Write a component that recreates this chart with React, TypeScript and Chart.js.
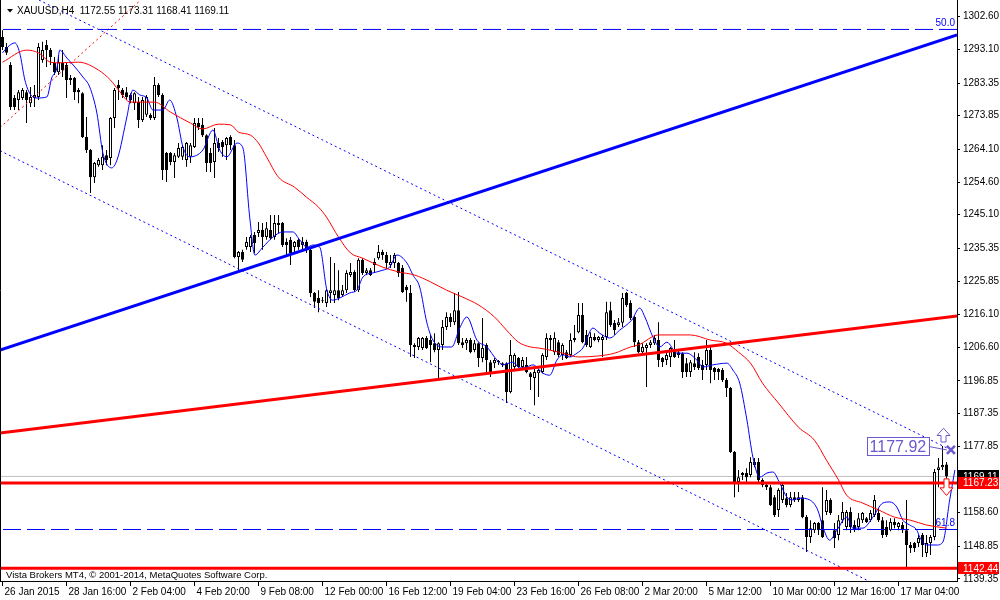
import React, { useEffect, useRef } from "react";
import { Chart, registerables } from "chart.js";

Chart.register(...registerables);

const FONT = "'Liberation Sans', Arial, sans-serif";

const symbolTitle = "XAUUSD,H4";
const lastOHLC = [1172.55, 1173.31, 1168.41, 1169.11];
const copyrightText = "Vista Brokers MT4, \u00A9 2001-2014, MetaQuotes Software Corp.";

const xTickBars = [0, 16, 32, 48, 64, 80, 96, 112, 128, 144, 160, 176, 192, 208, 224];
const xTickLabels = [
  "26 Jan 2015", "28 Jan 16:00", "2 Feb 04:00", "4 Feb 20:00", "9 Feb 08:00",
  "12 Feb 00:00", "16 Feb 12:00", "19 Feb 04:00", "23 Feb 16:00", "26 Feb 08:00",
  "2 Mar 20:00", "5 Mar 12:00", "10 Mar 00:00", "12 Mar 16:00", "17 Mar 04:00",
];
const yTickValues = [
  1302.6, 1293.1, 1283.35, 1273.85, 1264.1, 1254.6, 1245.1, 1235.35, 1225.85,
  1216.1, 1206.6, 1196.85, 1187.35, 1177.85, 1168.35, 1158.6, 1148.85, 1139.35,
];

const opens = [
  1296.7, 1293.8, 1288.6, 1279.0, 1278.4, 1279.0, 1280.7, 1277.5, 1279.0, 1279.3,
  1290.0, 1294.4, 1292.9, 1289.2, 1286.5, 1289.2, 1288.6, 1284.2, 1284.8, 1281.3,
  1280.4, 1267.7, 1263.9, 1256.0, 1259.5, 1259.5, 1262.4, 1261.6, 1273.2, 1282.8,
  1281.3, 1280.7, 1279.9, 1277.5, 1277.8, 1272.6, 1274.1, 1274.1, 1273.2, 1282.8,
  1279.9, 1263.0, 1263.0, 1260.4, 1261.9, 1261.9, 1261.0, 1261.9, 1264.8, 1271.7,
  1271.2, 1268.2, 1263.0, 1260.4, 1265.9, 1266.2, 1265.3, 1267.7, 1265.3, 1232.8,
  1234.3, 1235.7, 1235.7, 1239.2, 1239.8, 1240.7, 1238.6, 1240.7, 1238.6, 1242.1,
  1242.7, 1237.2, 1237.8, 1235.7, 1237.8, 1236.3, 1237.2, 1234.9, 1222.4, 1220.9,
  1220.3, 1219.5, 1222.4, 1221.8, 1223.2, 1221.8, 1223.2, 1227.6, 1228.5, 1223.2,
  1232.0, 1228.2, 1229.0, 1230.5, 1232.5, 1234.3, 1233.4, 1230.5, 1231.1, 1231.1,
  1229.6, 1224.1, 1222.4, 1207.3, 1206.7, 1206.4, 1209.3, 1208.7, 1207.8, 1205.8,
  1207.3, 1212.5, 1215.4, 1213.9, 1217.4, 1208.1, 1207.8, 1208.7, 1205.8, 1207.8,
  1203.5, 1207.3, 1202.3, 1202.0, 1202.3, 1202.0, 1202.0, 1193.6, 1200.9, 1203.5,
  1200.9, 1201.5, 1199.1, 1197.7, 1199.1, 1199.4, 1203.8, 1209.3, 1205.2, 1208.1,
  1204.4, 1205.2, 1204.4, 1208.7, 1211.0, 1216.0, 1210.2, 1206.7, 1209.6, 1208.7,
  1208.7, 1209.6, 1217.4, 1213.7, 1213.1, 1213.7, 1222.4, 1219.5, 1215.4, 1208.1,
  1205.2, 1206.4, 1207.3, 1207.8, 1208.7, 1203.5, 1202.9, 1203.8, 1205.8, 1205.2,
  1204.9, 1202.0, 1199.4, 1202.0, 1203.8, 1201.5, 1201.5, 1205.8, 1200.6, 1200.3,
  1200.0, 1197.1, 1194.8, 1176.2, 1167.5, 1169.5, 1170.1, 1169.5, 1172.4, 1173.3,
  1168.1, 1166.6, 1166.0, 1163.1, 1159.4, 1162.3, 1162.8, 1160.8, 1163.1, 1162.3,
  1163.1, 1157.3, 1151.5, 1153.5, 1155.6, 1156.4, 1158.8, 1162.3, 1153.5, 1152.1,
  1156.4, 1154.4, 1158.8, 1155.0, 1154.4, 1156.4, 1157.0, 1156.4, 1157.9, 1158.5,
  1156.4, 1154.4, 1153.5, 1155.9, 1154.4, 1155.0, 1153.5, 1149.2, 1149.8, 1149.8,
  1152.1, 1146.9, 1149.8, 1151.5, 1171.0, 1171.8, 1172.55,
];
const highs = [
  1298.7, 1295.0, 1289.4, 1279.9, 1281.3, 1281.9, 1281.3, 1282.2, 1282.8, 1295.0,
  1295.3, 1295.8, 1293.5, 1290.9, 1291.5, 1292.9, 1289.2, 1285.7, 1285.1, 1281.9,
  1280.7, 1273.5, 1264.2, 1260.4, 1261.6, 1265.3, 1263.9, 1273.5, 1281.9, 1284.2,
  1281.9, 1282.2, 1280.4, 1280.7, 1279.3, 1279.3, 1279.9, 1274.6, 1285.1, 1283.3,
  1280.4, 1263.3, 1263.3, 1263.0, 1265.9, 1265.3, 1266.2, 1265.9, 1273.2, 1273.2,
  1273.2, 1268.5, 1264.5, 1270.3, 1267.4, 1266.8, 1267.7, 1268.2, 1266.8, 1234.6,
  1234.9, 1238.6, 1239.2, 1240.1, 1243.0, 1242.7, 1243.0, 1245.0, 1245.0, 1245.0,
  1243.0, 1238.3, 1238.6, 1237.5, 1238.3, 1238.6, 1237.8, 1235.7, 1222.7, 1223.2,
  1221.2, 1223.5, 1232.8, 1231.1, 1229.0, 1224.7, 1229.0, 1231.1, 1229.0, 1232.5,
  1232.5, 1229.6, 1229.6, 1232.5, 1236.3, 1234.9, 1234.3, 1233.4, 1234.0, 1231.4,
  1230.5, 1224.7, 1224.7, 1207.8, 1209.6, 1209.6, 1209.9, 1210.2, 1210.7, 1208.1,
  1214.5, 1216.8, 1216.5, 1222.4, 1222.7, 1209.3, 1209.3, 1209.3, 1208.7, 1208.1,
  1215.1, 1207.8, 1202.9, 1203.5, 1202.9, 1202.3, 1202.3, 1208.7, 1204.9, 1203.8,
  1203.8, 1203.8, 1199.4, 1200.6, 1200.3, 1204.9, 1210.7, 1210.2, 1211.0, 1208.7,
  1207.8, 1205.8, 1210.7, 1213.1, 1219.5, 1219.5, 1211.6, 1211.0, 1210.7, 1209.9,
  1210.2, 1219.8, 1219.8, 1214.5, 1215.1, 1222.4, 1222.7, 1220.3, 1215.7, 1208.7,
  1207.8, 1207.8, 1208.7, 1210.2, 1213.9, 1203.8, 1205.8, 1206.7, 1208.7, 1205.8,
  1205.2, 1203.5, 1202.9, 1205.2, 1204.9, 1202.9, 1208.7, 1206.7, 1200.9, 1200.6,
  1200.6, 1197.7, 1195.1, 1176.5, 1171.0, 1170.4, 1171.5, 1174.7, 1174.5, 1174.5,
  1168.6, 1167.2, 1166.6, 1163.7, 1165.7, 1167.2, 1164.3, 1164.6, 1164.6, 1164.6,
  1163.7, 1157.9, 1156.4, 1155.9, 1155.9, 1166.0, 1165.2, 1162.8, 1155.6, 1157.9,
  1161.7, 1159.4, 1160.2, 1156.4, 1158.5, 1158.8, 1157.3, 1159.4, 1163.7, 1159.9,
  1157.3, 1156.4, 1157.0, 1157.0, 1155.9, 1155.9, 1162.3, 1150.1, 1150.1, 1152.1,
  1152.7, 1152.1, 1152.1, 1171.3, 1174.5, 1177.92, 1173.31,
];
const lows = [
  1292.9, 1291.5, 1275.5, 1275.5, 1275.5, 1278.4, 1271.7, 1276.4, 1276.4, 1278.4,
  1289.2, 1288.0, 1288.6, 1285.7, 1285.7, 1285.1, 1279.0, 1282.8, 1278.4, 1277.5,
  1267.4, 1263.0, 1251.4, 1254.3, 1259.0, 1258.1, 1259.5, 1259.5, 1270.3, 1278.4,
  1279.0, 1278.4, 1277.5, 1275.5, 1270.3, 1272.0, 1273.5, 1272.6, 1272.6, 1279.3,
  1255.2, 1254.6, 1259.5, 1255.8, 1261.6, 1261.0, 1259.0, 1260.1, 1264.5, 1269.7,
  1267.7, 1257.5, 1257.5, 1255.8, 1263.3, 1261.9, 1261.0, 1263.9, 1232.5, 1229.0,
  1231.4, 1234.9, 1234.3, 1234.0, 1238.6, 1234.9, 1237.8, 1237.8, 1237.8, 1239.8,
  1235.7, 1232.8, 1230.5, 1234.0, 1234.9, 1234.9, 1234.0, 1221.2, 1218.0, 1216.8,
  1219.5, 1218.3, 1219.5, 1219.5, 1220.3, 1221.2, 1222.4, 1227.0, 1222.7, 1222.7,
  1227.6, 1227.6, 1227.3, 1228.5, 1232.0, 1232.0, 1229.6, 1229.6, 1229.6, 1227.0,
  1222.4, 1219.8, 1203.8, 1203.5, 1205.8, 1205.8, 1206.1, 1202.3, 1205.2, 1197.1,
  1205.8, 1211.6, 1212.5, 1213.1, 1207.3, 1206.4, 1205.8, 1204.9, 1205.2, 1200.9,
  1202.3, 1199.1, 1198.0, 1200.6, 1201.5, 1200.9, 1190.4, 1193.3, 1200.0, 1200.6,
  1200.0, 1199.1, 1194.2, 1189.8, 1192.2, 1199.1, 1202.9, 1205.8, 1204.4, 1203.8,
  1202.9, 1203.2, 1203.8, 1208.1, 1210.7, 1207.8, 1206.7, 1206.4, 1208.4, 1208.1,
  1203.8, 1208.7, 1212.5, 1210.2, 1212.5, 1212.5, 1218.3, 1214.5, 1206.7, 1204.9,
  1204.6, 1195.1, 1206.4, 1207.3, 1200.9, 1200.9, 1201.5, 1200.9, 1203.5, 1203.5,
  1197.7, 1198.0, 1198.0, 1200.0, 1200.0, 1197.1, 1200.0, 1196.2, 1197.1, 1197.1,
  1196.5, 1192.2, 1175.9, 1163.1, 1164.6, 1168.1, 1167.5, 1168.9, 1171.8, 1167.5,
  1166.0, 1165.2, 1160.5, 1157.3, 1157.3, 1161.4, 1160.2, 1160.2, 1161.7, 1161.7,
  1157.0, 1147.2, 1149.8, 1152.7, 1152.1, 1151.2, 1157.9, 1157.9, 1148.3, 1150.6,
  1155.6, 1153.5, 1152.7, 1153.0, 1153.5, 1155.6, 1155.6, 1155.9, 1157.3, 1155.9,
  1151.2, 1151.5, 1153.2, 1154.1, 1153.5, 1152.7, 1142.44, 1146.9, 1147.2, 1148.6,
  1145.7, 1145.7, 1146.3, 1150.6, 1166.0, 1171.0, 1168.41,
];
const closes = [
  1293.8, 1292.1, 1276.4, 1276.4, 1280.7, 1281.3, 1278.4, 1279.3, 1279.9, 1293.8,
  1292.9, 1292.9, 1290.9, 1286.5, 1289.4, 1287.1, 1284.2, 1284.8, 1280.7, 1280.7,
  1267.7, 1263.9, 1256.0, 1260.1, 1261.0, 1261.9, 1261.0, 1273.2, 1281.3, 1281.9,
  1279.9, 1279.3, 1278.4, 1280.4, 1272.6, 1278.4, 1279.3, 1273.2, 1282.8, 1279.9,
  1258.1, 1258.1, 1260.4, 1262.4, 1264.5, 1264.8, 1265.9, 1265.3, 1271.7, 1270.6,
  1268.2, 1260.1, 1260.1, 1265.9, 1264.5, 1264.8, 1267.4, 1265.3, 1232.8, 1234.3,
  1232.0, 1237.2, 1238.6, 1236.9, 1240.7, 1238.6, 1241.2, 1238.3, 1242.7, 1242.7,
  1236.3, 1236.3, 1234.0, 1237.2, 1235.7, 1237.2, 1235.4, 1222.4, 1219.8, 1219.5,
  1220.0, 1223.2, 1223.2, 1223.2, 1220.9, 1223.2, 1228.2, 1228.5, 1223.2, 1232.0,
  1228.2, 1229.0, 1227.6, 1231.4, 1234.3, 1233.4, 1231.1, 1231.4, 1233.4, 1228.2,
  1222.7, 1223.2, 1207.3, 1206.7, 1209.3, 1209.3, 1206.4, 1207.3, 1205.8, 1207.8,
  1212.5, 1215.4, 1213.9, 1217.4, 1207.8, 1207.3, 1208.7, 1205.2, 1207.8, 1203.5,
  1206.4, 1202.9, 1199.4, 1202.9, 1202.6, 1201.5, 1193.6, 1204.4, 1204.4, 1200.9,
  1202.9, 1199.4, 1198.0, 1199.4, 1200.0, 1204.4, 1209.3, 1208.7, 1209.3, 1204.4,
  1207.3, 1203.5, 1208.7, 1209.3, 1216.0, 1208.1, 1207.3, 1209.6, 1208.7, 1209.6,
  1209.6, 1216.8, 1213.1, 1211.6, 1213.9, 1220.9, 1218.9, 1215.1, 1208.1, 1205.2,
  1206.7, 1207.3, 1208.1, 1209.3, 1202.9, 1202.3, 1204.4, 1206.4, 1203.8, 1204.4,
  1199.4, 1199.4, 1202.3, 1200.9, 1200.6, 1200.0, 1205.8, 1200.0, 1199.4, 1199.4,
  1197.1, 1194.8, 1176.2, 1167.5, 1168.9, 1170.1, 1168.9, 1173.3, 1173.3, 1168.1,
  1166.6, 1166.0, 1160.8, 1157.9, 1165.2, 1166.6, 1160.8, 1163.1, 1162.3, 1163.1,
  1157.3, 1151.5, 1154.1, 1155.6, 1153.5, 1151.5, 1162.3, 1158.5, 1151.2, 1156.4,
  1158.8, 1158.8, 1154.4, 1153.5, 1157.0, 1158.5, 1155.9, 1158.5, 1162.3, 1156.4,
  1152.1, 1152.1, 1155.9, 1155.0, 1155.6, 1153.5, 1149.2, 1148.3, 1148.3, 1151.2,
  1149.2, 1149.8, 1151.5, 1170.4, 1171.8, 1172.4, 1169.11,
];

// slow (red) moving average
const maSlowBars = [
  0, 6, 9, 12, 14, 19, 24, 27, 29, 32, 35, 38, 42, 47, 50, 54, 57, 59, 62, 64,
  66, 69, 73, 76, 79, 81, 84, 87, 90, 95, 99, 103, 107, 111, 115, 119, 123, 126, 129, 132,
  134, 138, 141, 144, 149, 153, 157, 159, 164, 172, 177, 181, 184, 187, 190, 194, 199, 203, 206, 209,
  211, 215, 219, 223, 227, 231, 236,
];
const maSlowVals = [
  1289.4, 1292.9, 1292.1, 1289.4, 1289.2, 1289.4, 1287.1, 1284.2, 1281.3, 1277.8,
  1277.8, 1277.8, 1274.9, 1271.7, 1270.0, 1271.4, 1271.2, 1269.1, 1268.2, 1265.9,
  1261.9, 1256.0, 1253.1, 1250.2, 1247.3, 1244.4, 1238.6, 1234.0, 1232.5, 1229.9,
  1228.5, 1227.6, 1225.6, 1223.2, 1221.2, 1218.9, 1215.4, 1211.6, 1208.1, 1206.7,
  1206.4, 1205.5, 1204.6, 1203.8, 1204.1, 1204.9, 1206.7, 1207.3, 1210.2, 1210.2,
  1208.7, 1207.8, 1205.2, 1202.0, 1196.2, 1190.4, 1183.4, 1179.6, 1173.8, 1168.1,
  1163.7, 1161.4, 1159.4, 1157.3, 1156.4, 1155.0, 1154.1,
];

// fast (blue) moving average
const maFastBars = [
  0, 1.3, 3.1, 4.3, 5.6, 6.8, 8.6, 11.1, 12.3, 13.6,
  14.3, 16.1, 18.1, 20.1, 21.8, 23.6, 25.1, 27.3, 28.8, 31.1,
  32.6, 34.3, 36.1, 37.6, 40.1, 41.8, 43.6, 45.1, 46.8, 50.1,
  52.6, 54.3, 56.1, 58.6, 60.1, 61.8, 63.1, 65.1, 67.6, 70.1,
  72.6, 74.3, 76.1, 77.6, 79.3, 81.1, 82.6, 84.3, 86.8, 88.6,
  90.1, 92.6, 95.1, 96.8, 98.6, 101.1, 102.6, 104.3, 106.1, 107.6,
  110.1, 112.3, 114.3, 116.1, 118.6, 121.1, 123.6, 125.1, 127.6, 129.3,
  131.1, 132.6, 135.1, 136.8, 138.6, 140.1, 141.8, 143.6, 145.1, 147.6,
  149.3, 151.8, 154.3, 157.3, 159.3, 160.6, 162.6, 164.3, 166.1, 168.6,
  171.1, 173.6, 175.1, 177.6, 181.1, 182.6, 184.3, 186.1, 187.6, 189.3,
  191.1, 192.6, 194.3, 196.1, 197.6, 199.3, 201.8, 203.8, 205.1, 206.8,
  208.6, 211.1, 212.6, 215.1, 217.6, 220.1, 221.8, 223.6, 225.1, 226.8,
  228.6, 229.3, 231.1, 233.6, 235.1, 236.8, 238.1,
];
const maFastVals = [
  1292.1, 1293.8, 1295.0, 1292.1, 1284.2, 1280.4, 1279.0, 1279.3, 1284.8, 1287.7,
  1292.9, 1290.6, 1288.0, 1285.1, 1282.2, 1274.6, 1263.0, 1258.7, 1261.6, 1273.5,
  1281.3, 1279.9, 1279.0, 1275.5, 1275.5, 1278.4, 1273.2, 1264.8, 1261.9, 1263.9,
  1269.7, 1263.9, 1261.9, 1265.9, 1264.5, 1244.4, 1233.4, 1235.7, 1238.6, 1240.1,
  1240.1, 1237.8, 1235.7, 1236.3, 1235.7, 1223.2, 1220.3, 1220.9, 1222.4, 1223.2,
  1227.0, 1228.2, 1229.0, 1229.9, 1233.4, 1231.1, 1227.6, 1224.1, 1213.7, 1208.7,
  1206.7, 1206.7, 1212.2, 1215.4, 1208.7, 1206.7, 1202.9, 1201.5, 1202.3, 1200.6,
  1200.9, 1201.5, 1199.1, 1198.5, 1202.9, 1204.4, 1203.8, 1204.9, 1206.4, 1212.2,
  1210.7, 1209.3, 1211.6, 1214.5, 1218.0, 1215.4, 1209.6, 1206.7, 1208.1, 1204.9,
  1204.9, 1202.9, 1200.9, 1201.5, 1202.0, 1200.0, 1196.2, 1185.5, 1174.7, 1168.9,
  1170.1, 1170.4, 1167.2, 1163.1, 1162.3, 1162.8, 1162.3, 1159.4, 1154.4, 1150.6,
  1153.5, 1157.3, 1154.1, 1154.1, 1157.3, 1161.4, 1161.7, 1160.2, 1156.4, 1155.0,
  1153.5, 1151.5, 1149.2, 1149.2, 1150.1, 1162.3, 1171.0,
];

// drawn objects (trend lines, channel, fibo, levels)
const blueTrendBars = [-0.625, 238.625];
const blueTrendVals = [1205.8, 1297.3];
const redTrendBars = [-0.625, 238.625];
const redTrendVals = [1181.7, 1215.7];
const channelUpperBars = [9.1, 237.1];
const channelUpperVals = [1307.45, 1176.8];
const channelLowerBars = [-0.625, 216.6];
const channelLowerVals = [1263.7, 1138.7];
const fiboDiagBars = [-0.625, 34.55];
const fiboDiagVals = [1270.4, 1307.45];
const fiboLevelNames = ["50.0", "61.8"];
const fiboLevelVals = [1298.9, 1153.7];
const redLevels = [1167.23, 1142.44];
const bidPrice = 1169.11;
const alertPrice = 1177.92;
const alertMarkBar = 237.1;
const alertMarkPrice = 1176.8;

const X_MIN = -0.625;
const X_MAX = 238.625;
const Y_MIN = 1138.75;
const Y_MAX = 1307.45;

const SLATE = "#6a5acd";

function lineDs(bars: number[], vals: number[], color: string, width: number, order: number, extra: any = {}) {
  return {
    type: "line",
    data: bars.map((b, i) => ({ x: b, y: vals[i] })),
    borderColor: color,
    backgroundColor: color,
    borderWidth: width,
    pointRadius: 0,
    pointHoverRadius: 0,
    fill: false,
    tension: 0,
    order,
    ...extra,
  };
}

const overlayPlugin = {
  id: "mt4overlay",
  afterDraw(chart: any) {
    const { ctx, chartArea } = chart;
    const x = chart.scales.x;
    const y = chart.scales.y;
    ctx.save();

    // left frame
    ctx.strokeStyle = "#000";
    ctx.lineWidth = 1;
    ctx.beginPath();
    ctx.moveTo(0.5, 0);
    ctx.lineTo(0.5, chartArea.bottom);
    ctx.stroke();

    // header
    ctx.fillStyle = "#000";
    ctx.beginPath();
    ctx.moveTo(7, 9);
    ctx.lineTo(13, 9);
    ctx.lineTo(10, 12.5);
    ctx.closePath();
    ctx.fill();
    ctx.font = `10px ${FONT}`;
    ctx.textAlign = "left";
    ctx.textBaseline = "middle";
    ctx.fillText(`${symbolTitle}  ${lastOHLC.map((v) => v.toFixed(2)).join(" ")}`, 17, 11);

    // copyright
    ctx.font = `9.5px ${FONT}`;
    ctx.fillText(copyrightText, 6, 575.5);

    // fibo level labels
    ctx.fillStyle = "#0000ff";
    ctx.font = `10px ${FONT}`;
    ctx.textAlign = "right";
    ctx.textBaseline = "bottom";
    fiboLevelVals.forEach((v, i) => {
      ctx.fillText(fiboLevelNames[i], chartArea.right - 2, y.getPixelForValue(v) - 1);
    });

    // alert label
    const mx = x.getPixelForValue(alertMarkBar);
    const my = y.getPixelForValue(alertMarkPrice);
    const ay = y.getPixelForValue(alertPrice);
    const bRight = mx - 22;
    const bLeft = bRight - 62;
    ctx.strokeStyle = SLATE;
    ctx.lineWidth = 1;
    ctx.fillStyle = "#fff";
    ctx.fillRect(bLeft, Math.round(ay) - 9, 62, 19);
    ctx.strokeRect(Math.round(bLeft) + 0.5, Math.round(ay) - 8.5, 62, 18);
    ctx.fillStyle = SLATE;
    ctx.font = `16px ${FONT}`;
    ctx.textAlign = "center";
    ctx.textBaseline = "middle";
    ctx.fillText(alertPrice.toFixed(2), bLeft + 31, ay + 1);
    ctx.beginPath();
    ctx.moveTo(bRight, Math.round(ay) + 0.5);
    ctx.lineTo(mx - 4, my);
    ctx.stroke();
    // cross
    ctx.lineWidth = 2.5;
    ctx.beginPath();
    ctx.moveTo(mx - 4, my - 4);
    ctx.lineTo(mx + 4, my + 4);
    ctx.moveTo(mx + 4, my - 4);
    ctx.lineTo(mx - 4, my + 4);
    ctx.stroke();

    // hollow arrows
    const drawArrow = (cx: number, tip: number, base: number, end: number, color: string) => {
      ctx.beginPath();
      ctx.moveTo(cx, tip);
      ctx.lineTo(cx + 6.5, base);
      ctx.lineTo(cx + 2.5, base);
      ctx.lineTo(cx + 2.5, end);
      ctx.lineTo(cx - 2.5, end);
      ctx.lineTo(cx - 2.5, base);
      ctx.lineTo(cx - 6.5, base);
      ctx.closePath();
      ctx.fillStyle = "#fff";
      ctx.fill();
      ctx.strokeStyle = color;
      ctx.lineWidth = 1;
      ctx.stroke();
    };
    drawArrow(Math.round(mx - 8) + 0.5, y.getPixelForValue(1183.1), y.getPixelForValue(1181.0), y.getPixelForValue(1179.1), SLATE);
    drawArrow(Math.round(mx - 5) + 0.5, y.getPixelForValue(1163.6), y.getPixelForValue(1165.8), y.getPixelForValue(1168.4), "#ff0000");

    // price boxes on the axis
    const box = (price: number, bg: string) => {
      const py = y.getPixelForValue(price);
      ctx.fillStyle = bg;
      ctx.fillRect(chartArea.right + 1, Math.round(py) - 6, 41, 12);
      ctx.fillStyle = "#fff";
      ctx.font = `10px ${FONT}`;
      ctx.textAlign = "left";
      ctx.textBaseline = "middle";
      ctx.fillText(price.toFixed(2), chartArea.right + 6, py + 0.5);
    };
    box(bidPrice, "#000");
    redLevels.forEach((p) => box(p, "#ff0000"));

    ctx.restore();
  },
};

export default function App() {
  const ref = useRef<HTMLCanvasElement | null>(null);

  useEffect(() => {
    document.body.style.margin = "0";
    const canvas = ref.current;
    if (!canvas) return;
    const idx = opens.map((_, i) => i);

    const datasets: any[] = [
      {
        type: "bar",
        data: idx.map((i) => ({ x: i, y: [opens[i], closes[i]] })),
        backgroundColor: idx.map((i) => (closes[i] >= opens[i] ? "#ffffff" : "#000000")),
        borderColor: "#000000",
        borderWidth: 1,
        borderSkipped: false,
        barThickness: 3,
        maxBarThickness: 3,
        grouped: false,
        minBarLength: 1,
        inflateAmount: 0,
        order: 19,
      },
      {
        type: "bar",
        data: idx.map((i) => ({ x: i, y: [lows[i], highs[i]] })),
        backgroundColor: "#000000",
        borderWidth: 0,
        barThickness: 1,
        maxBarThickness: 1,
        grouped: false,
        inflateAmount: 0,
        order: 20,
      },
      lineDs([X_MIN, X_MAX], [bidPrice, bidPrice], "#c0c0c0", 1, 25),
      lineDs(channelUpperBars, channelUpperVals, "#0000ff", 1, 15, { borderDash: [2, 3] }),
      lineDs(channelLowerBars, channelLowerVals, "#0000ff", 1, 15, { borderDash: [2, 3] }),
      lineDs(fiboDiagBars, fiboDiagVals, "#ff0000", 1, 15, { borderDash: [2, 3] }),
      ...fiboLevelVals.map((v) =>
        lineDs([X_MIN, X_MAX], [v, v], "#0000ff", 1, 14, { borderDash: [18, 6], borderDashOffset: 21 })
      ),
      lineDs(maFastBars, maFastVals, "#0000ff", 1, 12, { cubicInterpolationMode: "monotone" }),
      lineDs(maSlowBars, maSlowVals, "#ff0000", 1, 11, { cubicInterpolationMode: "monotone" }),
      lineDs(blueTrendBars, blueTrendVals, "#0000ff", 3, 5),
      lineDs(redTrendBars, redTrendVals, "#ff0000", 3, 5),
      ...redLevels.map((v) => lineDs([X_MIN, X_MAX], [v, v], "#ff0000", 3, 4)),
    ];

    const chart = new Chart(canvas, {
      type: "bar",
      data: { datasets },
      options: {
        responsive: false,
        animation: false,
        events: [],
        layout: { padding: 0 },
        plugins: {
          legend: { display: false },
          tooltip: { enabled: false },
          title: { display: false },
        },
        scales: {
          x: {
            type: "linear",
            position: "bottom",
            min: X_MIN,
            max: X_MAX,
            offset: false,
            bounds: "data",
            grid: {
              display: true,
              drawOnChartArea: false,
              drawTicks: true,
              tickLength: 5,
              color: "#000",
              tickColor: "#000",
              offset: false,
            },
            border: { display: true, color: "#000", width: 1 },
            ticks: {
              autoSkip: false,
              maxRotation: 0,
              minRotation: 0,
              align: "start",
              labelOffset: 2,
              padding: 0,
              color: "#000",
              font: { family: FONT, size: 10 },
              callback: (v: any) => {
                const k = xTickBars.indexOf(Number(v));
                return k >= 0 ? xTickLabels[k] : "";
              },
            },
            afterBuildTicks: (s: any) => {
              s.ticks = xTickBars.map((v) => ({ value: v }));
            },
            afterFit: (s: any) => {
              s.height = 19;
              s.paddingLeft = 0;
              s.paddingRight = 0;
            },
          },
          y: {
            type: "linear",
            position: "right",
            min: Y_MIN,
            max: Y_MAX,
            beginAtZero: false,
            bounds: "data",
            grid: {
              display: true,
              drawOnChartArea: false,
              drawTicks: true,
              tickLength: 3,
              color: "#000",
              tickColor: "#000",
            },
            border: { display: true, color: "#000", width: 1 },
            ticks: {
              autoSkip: false,
              padding: 3,
              color: "#000",
              font: { family: FONT, size: 10 },
              callback: (v: any) => Number(v).toFixed(2),
            },
            afterBuildTicks: (s: any) => {
              s.ticks = yTickValues.map((v) => ({ value: v }));
            },
            afterFit: (s: any) => {
              s.width = 43;
              s.paddingTop = 0;
              s.paddingBottom = 0;
            },
          },
        },
      } as any,
      plugins: [overlayPlugin],
    } as any);

    return () => chart.destroy();
  }, []);

  return (
    <div style={{ position: "fixed", left: 0, top: 0, width: 1000, height: 600, background: "#fff" }}>
      <canvas ref={ref} width={1000} height={600} style={{ display: "block" }} />
    </div>
  );
}
